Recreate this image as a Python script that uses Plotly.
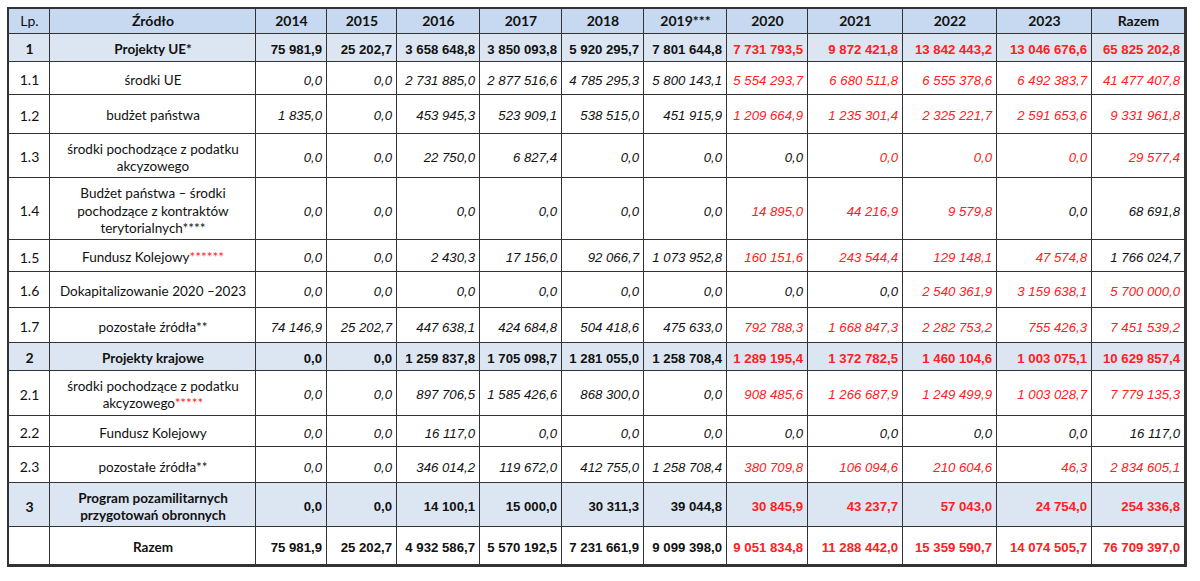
import plotly.graph_objects as go

# ---------------- data ----------------
years = ["2014", "2015", "2016", "2017", "2018", "2019***", "2020", "2021", "2022", "2023", "Razem"]

lp = ["1", "1.1", "1.2", "1.3", "1.4", "1.5", "1.6", "1.7", "2", "2.1", "2.2", "2.3", "3", ""]

sources = [
    "Projekty UE*",
    "środki UE",
    "budżet państwa",
    "środki pochodzące z podatku<br>akcyzowego",
    "Budżet państwa – środki<br>pochodzące z kontraktów<br>terytorialnych****",
    "Fundusz Kolejowy<span style='color:#ff2020'>******</span>",
    "Dokapitalizowanie 2020 –2023",
    "pozostałe źródła**",
    "Projekty krajowe",
    "środki pochodzące z podatku<br>akcyzowego<span style='color:#ff2020'>*****</span>",
    "Fundusz Kolejowy",
    "pozostałe źródła**",
    "Program pozamilitarnych<br>przygotowań obronnych",
    "Razem",
]

v2014 = [75981.9, 0.0, 1835.0, 0.0, 0.0, 0.0, 0.0, 74146.9, 0.0, 0.0, 0.0, 0.0, 0.0, 75981.9]
v2015 = [25202.7, 0.0, 0.0, 0.0, 0.0, 0.0, 0.0, 25202.7, 0.0, 0.0, 0.0, 0.0, 0.0, 25202.7]
v2016 = [3658648.8, 2731885.0, 453945.3, 22750.0, 0.0, 2430.3, 0.0, 447638.1, 1259837.8, 897706.5, 16117.0, 346014.2, 14100.1, 4932586.7]
v2017 = [3850093.8, 2877516.6, 523909.1, 6827.4, 0.0, 17156.0, 0.0, 424684.8, 1705098.7, 1585426.6, 0.0, 119672.0, 15000.0, 5570192.5]
v2018 = [5920295.7, 4785295.3, 538515.0, 0.0, 0.0, 92066.7, 0.0, 504418.6, 1281055.0, 868300.0, 0.0, 412755.0, 30311.3, 7231661.9]
v2019 = [7801644.8, 5800143.1, 451915.9, 0.0, 0.0, 1073952.8, 0.0, 475633.0, 1258708.4, 0.0, 0.0, 1258708.4, 39044.8, 9099398.0]
v2020 = [7731793.5, 5554293.7, 1209664.9, 0.0, 14895.0, 160151.6, 0.0, 792788.3, 1289195.4, 908485.6, 0.0, 380709.8, 30845.9, 9051834.8]
v2021 = [9872421.8, 6680511.8, 1235301.4, 0.0, 44216.9, 243544.4, 0.0, 1668847.3, 1372782.5, 1266687.9, 0.0, 106094.6, 43237.7, 11288442.0]
v2022 = [13842443.2, 6555378.6, 2325221.7, 0.0, 9579.8, 129148.1, 2540361.9, 2282753.2, 1460104.6, 1249499.9, 0.0, 210604.6, 57043.0, 15359590.7]
v2023 = [13046676.6, 6492383.7, 2591653.6, 0.0, 0.0, 47574.8, 3159638.1, 755426.3, 1003075.1, 1003028.7, 0.0, 46.3, 24754.0, 14074505.7]
vtotal = [65825202.8, 41477407.8, 9331961.8, 29577.4, 68691.8, 1766024.7, 5700000.0, 7451539.2, 10629857.4, 7779135.3, 16117.0, 2834605.1, 254336.8, 76709397.0]

values = [v2014, v2015, v2016, v2017, v2018, v2019, v2020, v2021, v2022, v2023, vtotal]

# ---------------- layout / styling constants ----------------
col_w = [41, 206, 71, 70, 83, 82, 82, 83, 81, 95, 94, 95, 93]          # px
row_h = [25, 28, 33, 39, 45, 62, 32, 36, 35, 28, 45, 32, 36, 44, 38]    # header + data rows, px
PAD = 5
HEADER_DY = 1.5   # text sits slightly below the cell centre, as in the source
BODY_DY = 3

RED = "#ff2020"
BLACK = "#111111"
HEADER_BG = "#c6d9f0"
GROUP_BG = "#dce6f2"
LINE = "#333333"
TEXT_FONT = "Lato, Open Sans, sans-serif"
NUM_FONT = "Liberation Sans, Arial, sans-serif"

group_rows = {0, 8, 12}
bold_rows = {0, 8, 12, 13}
forecast_cols = {"2020", "2021", "2022", "2023", "Razem"}
# cells in forecast columns that stay black: (column label, row index)
black_cells = {("2020", 3), ("2020", 6), ("2020", 10),
               ("2021", 6), ("2021", 10),
               ("2022", 10),
               ("2023", 4), ("2023", 10),
               ("Razem", 4), ("Razem", 5), ("Razem", 10)}


def fmt(v):
    return f"{v:,.1f}".replace(",", " ").replace(".", ",")


x_edges = [0]
for w in col_w:
    x_edges.append(x_edges[-1] + w)
y_edges = [0]
for h in row_h:
    y_edges.append(y_edges[-1] + h)
W, H = x_edges[-1], y_edges[-1]

n = len(lp)
ncol = 2 + len(years)

# ---------------- cell fills (heatmap with gaps as grid lines) ----------------
z = [[2] * ncol]
for i in range(n):
    z.append([1 if i in group_rows else 0] * ncol)

heat = go.Heatmap(
    x=x_edges, y=y_edges, z=z,
    zmin=0, zmax=2,
    colorscale=[[0, "#ffffff"], [0.25, "#ffffff"], [0.25, GROUP_BG], [0.75, GROUP_BG],
                [0.75, HEADER_BG], [1, HEADER_BG]],
    showscale=False, xgap=1, ygap=1, hoverinfo="skip",
)

# ---------------- cell texts ----------------
tx, ty, tt, tpos, tcol, tsize, tfam = [], [], [], [], [], [], []


def add(col, row, text, align, color, size, family):
    if align == "center":
        tx.append((x_edges[col] + x_edges[col + 1]) / 2)
        tpos.append("middle center")
    else:
        tx.append(x_edges[col + 1] - PAD)
        tpos.append("middle left")
    dy = HEADER_DY if row == 0 else BODY_DY
    ty.append((y_edges[row] + y_edges[row + 1]) / 2 + dy)
    tt.append(text)
    tcol.append(color)
    tsize.append(size)
    tfam.append(family)


# header
headers = ["Lp.", "<b>Źródło</b>"] + [f"<b>{y}</b>" for y in years]
for c, h in enumerate(headers):
    add(c, 0, h, "center", BLACK, 14, TEXT_FONT)

for i in range(n):
    r = i + 1
    add(0, r, f"<b>{lp[i]}</b>" if i in group_rows else lp[i], "center", BLACK, 14, TEXT_FONT)
    add(1, r, f"<b>{sources[i]}</b>" if i in bold_rows else sources[i], "center", BLACK, 13.5, TEXT_FONT)
    for j, (y, col) in enumerate(zip(years, values)):
        s = fmt(col[i])
        s = f"<b>{s}</b>" if i in bold_rows else f"<i>{s}</i>"
        color = RED if (y in forecast_cols and (y, i) not in black_cells) else BLACK
        add(2 + j, r, s, "right", color, 13.2, NUM_FONT)

texts = go.Scatter(
    x=tx, y=ty, text=tt, mode="text",
    textposition=tpos,
    textfont=dict(color=tcol, size=tsize, family=tfam),
    hoverinfo="skip", showlegend=False,
)

fig = go.Figure([heat, texts])

axis_common = dict(showgrid=False, zeroline=False, showticklabels=False, ticks="",
                   showline=True, mirror=True, linecolor=LINE, linewidth=1.5, fixedrange=True)
fig.update_layout(
    width=1200,
    height=581,
    margin=dict(l=9, r=1200 - 9 - W, t=7, b=581 - 7 - H),
    paper_bgcolor="white",
    plot_bgcolor=LINE,
    xaxis=dict(range=[0, W], **axis_common),
    yaxis=dict(range=[H, 0], **axis_common),
    showlegend=False,
)

fig.write_html("out.html", post_script="document.body.style.margin='0';",
               config={"displayModeBar": False})
